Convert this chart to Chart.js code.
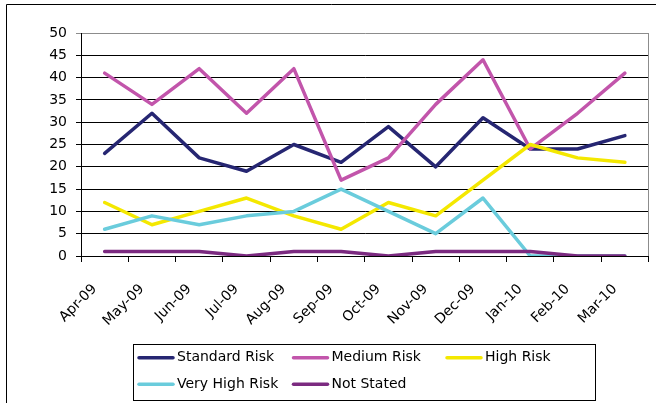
<!DOCTYPE html>
<html>
<head>
<meta charset="utf-8">
<script src="https://cdn.jsdelivr.net/npm/chart.js@4"></script>
<style>
  html, body { margin: 0; padding: 0; background: #fff; }
  canvas { display: block; }
</style>
</head>
<body>
<canvas id="chart" width="656" height="403"></canvas>
<script>
// Monthly counts by risk level, April 2009 to March 2010
const months = ['Apr-09', 'May-09', 'Jun-09', 'Jul-09', 'Aug-09', 'Sep-09',
                'Oct-09', 'Nov-09', 'Dec-09', 'Jan-10', 'Feb-10', 'Mar-10'];
const standardRisk = [23, 32, 22, 19, 25, 21, 29, 20, 31, 24, 24, 27];
const mediumRisk   = [41, 34, 42, 32, 42, 17, 22, 34, 44, 24, 32, 41];
const highRisk     = [12, 7, 10, 13, 9, 6, 12, 9, 17, 25, 22, 21];
const veryHighRisk = [6, 9, 7, 9, 10, 15, 10, 5, 13, 0, 0, 0];
const notStated    = [1, 1, 1, 0, 1, 1, 0, 1, 1, 1, 0, 0];
const yTicks = [0, 5, 10, 15, 20, 25, 30, 35, 40, 45, 50];

const seriesNames = ['Standard Risk', 'Medium Risk', 'High Risk', 'Very High Risk', 'Not Stated'];
const seriesValues = [standardRisk, mediumRisk, highRisk, veryHighRisk, notStated];
const seriesColors = ['#262672', '#C255AB', '#F4E800', '#6ACCDC', '#7B2A80'];

Chart.defaults.font.family = "'DejaVu Sans', sans-serif";
Chart.defaults.font.size = 14;
Chart.defaults.color = '#000';

// Outer border, right/top plot frame and the boxed legend
const framePlugin = {
  id: 'frame',
  beforeDraw(chart) {
    const ctx = chart.ctx;
    ctx.save();
    ctx.strokeStyle = '#000';
    ctx.lineWidth = 1;
    ctx.beginPath();
    ctx.moveTo(6.5, 403);
    ctx.lineTo(6.5, 4.5);
    ctx.lineTo(656, 4.5);
    ctx.stroke();
    ctx.restore();
  },
  beforeDatasetsDraw(chart) {
    const { ctx, chartArea } = chart;
    ctx.save();
    ctx.strokeStyle = '#8c8c8c';
    ctx.lineWidth = 1;
    ctx.beginPath();
    ctx.moveTo(Math.round(chartArea.right) - 0.5, chartArea.top);
    ctx.lineTo(Math.round(chartArea.right) - 0.5, chartArea.bottom);
    ctx.stroke();
    ctx.restore();
  },
  afterDraw(chart) {
    const ctx = chart.ctx;
    const box = { left: 133.5, top: 344.5, right: 595.5, bottom: 400.5 };
    const colX = [138, 292.5, 446];
    const rowY = [357.7, 384.3];
    const lineLen = 36;
    ctx.save();
    ctx.strokeStyle = '#000';
    ctx.lineWidth = 1;
    ctx.strokeRect(box.left, box.top, box.right - box.left, box.bottom - box.top);
    ctx.font = "14px 'DejaVu Sans', sans-serif";
    ctx.textBaseline = 'middle';
    ctx.textAlign = 'left';
    chart.data.datasets.forEach((ds, i) => {
      const x = colX[i % 3];
      const y = rowY[Math.floor(i / 3)];
      ctx.strokeStyle = ds.borderColor;
      ctx.lineWidth = 3.5;
      ctx.lineCap = 'round';
      ctx.beginPath();
      ctx.moveTo(x + 1, y);
      ctx.lineTo(x + lineLen - 1, y);
      ctx.stroke();
      ctx.fillStyle = '#000';
      ctx.fillText(ds.label, x + lineLen + 3, y);
    });
    ctx.restore();
  }
};

new Chart(document.getElementById('chart'), {
  type: 'line',
  data: {
    labels: months,
    datasets: seriesNames.map((name, i) => ({
      label: name,
      data: seriesValues[i],
      borderColor: seriesColors[i],
      backgroundColor: seriesColors[i],
      borderWidth: 3.5,
      pointRadius: 0,
      pointHoverRadius: 0,
      tension: 0,
      fill: false,
      borderJoinStyle: 'round',
      borderCapStyle: 'round',
      order: seriesNames.length - i
    }))
  },
  options: {
    responsive: false,
    animation: false,
    events: [],
    layout: { padding: { top: 33, right: 6, left: 0, bottom: 0 } },
    plugins: {
      legend: { display: false },
      tooltip: { enabled: false },
      title: { display: false }
    },
    scales: {
      x: {
        type: 'category',
        offset: true,
        grid: {
          offset: true,
          drawOnChartArea: false,
          drawTicks: true,
          tickLength: 6,
          color: '#000'
        },
        border: { display: true, color: '#000', width: 1 },
        ticks: {
          autoSkip: false,
          minRotation: 45,
          maxRotation: 45,
          padding: 19,
          labelOffset: -10,
          color: '#000',
          font: { size: 14 }
        },
        afterFit(scale) { scale.height = 147; }
      },
      y: {
        min: 0,
        max: 50,
        afterBuildTicks(scale) { scale.ticks = yTicks.map(v => ({ value: v })); },
        grid: {
          color: (c) => (c.tick && c.tick.value === 50 ? '#8c8c8c' : '#000'),
          tickLength: 5,
          drawTicks: true
        },
        border: { display: true, color: '#000', width: 1 },
        ticks: {
          padding: 9,
          color: '#000',
          font: { size: 14 }
        },
        afterFit(scale) { scale.width = 81; }
      }
    }
  },
  plugins: [framePlugin]
});
</script>
</body>
</html>
